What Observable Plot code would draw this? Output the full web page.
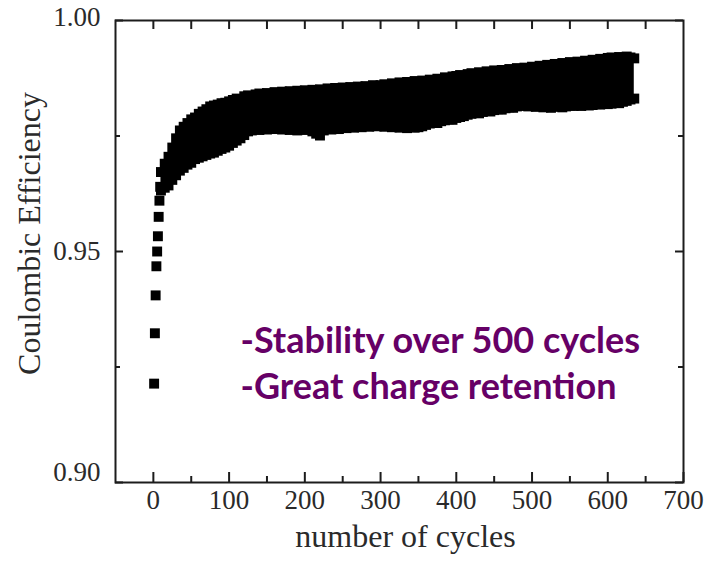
<!DOCTYPE html>
<html><head><meta charset="utf-8">
<script src="https://cdn.jsdelivr.net/npm/d3@7"></script>
<script src="https://cdn.jsdelivr.net/npm/@observablehq/plot@0.6"></script>
<style>body{margin:0;background:#fff} #chart{position:absolute;left:0;top:0}</style>
</head><body><div id="chart"></div>
<script>
// ---- data ----
const earlyCycles = [1, 2, 3, 4, 5, 6, 7, 8, 9];
const earlyCE = [0.9214, 0.9323, 0.9405, 0.9468, 0.9500, 0.9533, 0.9575, 0.9610, 0.9640];

const bandCycles = [10,15,20,25,30,35,40,45,50,
  55,60,65,70,75,80,85,90,95,100,
  105,110,115,120,125,130,135,140,145,150,
  155,160,165,170,175,180,185,190,195,200,
  205,210,215,220,225,230,235,240,245,250,
  255,260,265,270,275,280,285,290,295,300,
  305,310,315,320,325,330,335,340,345,350,
  355,360,365,370,375,380,385,390,395,400,
  405,410,415,420,425,430,435,440,445,450,
  455,460,465,470,475,480,485,490,495,500,
  505,510,515,520,525,530,535,540,545,550,
  555,560,565,570,575,580,585,590,595,600,
  605,610,615,620,625,630,635];
const bandHigh = [0.9672,0.9690,0.9705,0.9725,0.9745,0.9762,0.9770,0.9778,0.9786,
  0.9790,0.9798,0.9803,0.9808,0.9814,0.9816,0.9818,0.9821,0.9822,0.9825,
  0.9828,0.9831,0.9829,0.9836,0.9838,0.9835,0.9840,0.9842,0.9838,0.9843,
  0.9841,0.9845,0.9840,0.9846,0.9843,0.9847,0.9842,0.9848,0.9845,0.9849,
  0.9846,0.9850,0.9847,0.9851,0.9848,0.9853,0.9849,0.9854,0.9851,0.9855,
  0.9852,0.9856,0.9853,0.9857,0.9855,0.9858,0.9856,0.9860,0.9857,0.9860,
  0.9862,0.9859,0.9864,0.9861,0.9866,0.9863,0.9867,0.9865,0.9869,0.9866,
  0.9870,0.9868,0.9872,0.9870,0.9874,0.9872,0.9877,0.9875,0.9879,0.9880,
  0.9882,0.9880,0.9884,0.9886,0.9884,0.9888,0.9886,0.9890,0.9888,0.9892,
  0.9890,0.9893,0.9891,0.9895,0.9893,0.9897,0.9895,0.9898,0.9896,0.9900,
  0.9898,0.9902,0.9900,0.9904,0.9902,0.9906,0.9904,0.9908,0.9906,0.9910,
  0.9907,0.9911,0.9909,0.9913,0.9911,0.9915,0.9913,0.9917,0.9915,0.9919,
  0.9920,0.9917,0.9921,0.9919,0.9922,0.9920,0.9918];
const bandLow = [0.9632,0.9638,0.9643,0.9655,0.9665,0.9675,0.9681,0.9688,0.9692,
  0.9700,0.9703,0.9706,0.9709,0.9712,0.9714,0.9718,0.9722,0.9725,0.9729,
  0.9735,0.9740,0.9745,0.9752,0.9760,0.9762,0.9765,0.9763,0.9766,0.9764,
  0.9767,0.9765,0.9768,0.9764,0.9767,0.9763,0.9766,0.9762,0.9765,0.9763,
  0.9766,0.9760,0.9755,0.9751,0.9762,0.9766,0.9764,0.9768,0.9765,0.9769,
  0.9767,0.9770,0.9768,0.9771,0.9769,0.9773,0.9770,0.9774,0.9771,0.9773,
  0.9770,0.9772,0.9769,0.9771,0.9768,0.9770,0.9767,0.9770,0.9768,0.9769,
  0.9771,0.9774,0.9777,0.9780,0.9778,0.9782,0.9784,0.9786,0.9785,0.9789,
  0.9791,0.9793,0.9796,0.9798,0.9800,0.9799,0.9802,0.9804,0.9803,0.9806,
  0.9808,0.9807,0.9810,0.9812,0.9811,0.9814,0.9816,0.9815,0.9814,0.9816,
  0.9813,0.9815,0.9812,0.9814,0.9811,0.9813,0.9815,0.9812,0.9814,0.9816,
  0.9815,0.9817,0.9815,0.9818,0.9816,0.9817,0.9819,0.9818,0.9820,0.9819,
  0.9820,0.9822,0.9821,0.9824,0.9826,0.9829,0.9831];

const xMajorTicks = [0, 100, 200, 300, 400, 500, 600, 700];
const xMinorTicks = [50, 150, 250, 350, 450, 550, 650];
const xTopTicks = [0, 50, 100, 150, 200, 250, 300, 350, 400, 450, 500, 550, 600, 650];
const yMajorTicks = [0.90, 0.95, 1.00];
const yMinorTicks = [0.925, 0.975];
const xTitle = "number of cycles";
const yTitle = "Coulombic Efficiency";
const notes = ["-Stability over 500 cycles", "-Great charge retention"];
const noteCycle = [115, 115];
const noteCE = [0.9305, 0.9205];

// ---- layout ----
const W = 712, H = 570, mL = 115, mR = 29, mT = 20, mB = 88;
const innerW = W - mL - mR, innerH = H - mT - mB;

const band = bandCycles.map((c, i) => ({c, hi: bandHigh[i], lo: bandLow[i]}));
const early = earlyCycles.map((c, i) => ({c, v: earlyCE[i]}));
const noteData = notes.map((t, i) => ({t, x: noteCycle[i], y: noteCE[i]}));
const ink = "#1c1c1c";
const txt = "#2a2a2a";
const sq = 5.6;
const fmtY = d3.format(".2f");

const chart = Plot.plot({
  width: W, height: H,
  marginLeft: mL, marginRight: mR, marginTop: mT, marginBottom: mB,
  style: {fontFamily: "'Liberation Serif', serif", fontSize: "27px", color: txt, background: "#fff"},
  x: {domain: [-50, 700]},
  y: {domain: [0.90, 1.00]},
  marks: [
    Plot.areaY(band, {x: "c", y1: "lo", y2: "hi", fill: "#000"}),
    Plot.dot(band, {x: "c", y: "hi", symbol: "square", r: sq, fill: "#000"}),
    Plot.dot(band, {x: "c", y: "lo", symbol: "square", r: sq, fill: "#000"}),
    Plot.dot(early, {x: "c", y: "v", symbol: "square", r: sq, fill: "#000"}),
    Plot.frame({stroke: ink, strokeWidth: 2}),
    Plot.tickX(xMajorTicks, {x: d => d, insetTop: innerH - 10, stroke: ink, strokeWidth: 2}),
    Plot.tickX(xMinorTicks, {x: d => d, insetTop: innerH - 6, stroke: ink, strokeWidth: 2}),
    Plot.tickX(xTopTicks, {x: d => d, insetBottom: innerH - 9, stroke: ink, strokeWidth: 2}),
    Plot.tickY(yMajorTicks, {y: d => d, insetRight: innerW - 8, stroke: ink, strokeWidth: 2}),
    Plot.tickY(yMinorTicks, {y: d => d, insetRight: innerW - 5, stroke: ink, strokeWidth: 2}),
    Plot.tickY(yMajorTicks, {y: d => d, insetLeft: innerW - 8, stroke: ink, strokeWidth: 2}),
    Plot.tickY(yMinorTicks, {y: d => d, insetLeft: innerW - 5, stroke: ink, strokeWidth: 2}),
    Plot.axisX({ticks: xMajorTicks, tickSize: 0, tickPadding: 7, tickFormat: d => String(d), label: null}),
    Plot.axisY({ticks: yMajorTicks.slice(1, 2), tickSize: 0, tickPadding: 15, tickFormat: fmtY, label: null}),
    Plot.axisY({ticks: yMajorTicks.slice(2), tickSize: 0, tickPadding: 15, tickFormat: fmtY, label: null, dy: -3}),
    Plot.axisY({ticks: yMajorTicks.slice(0, 1), tickSize: 0, tickPadding: 15, tickFormat: fmtY, label: null, dy: -10}),
    Plot.text([xTitle], {frameAnchor: "bottom", textAnchor: "middle", dx: 6, dy: 64, fontSize: 32, fill: txt}),
    Plot.text([yTitle], {frameAnchor: "left", textAnchor: "middle", rotate: -90, dx: -86, dy: -18, fontSize: 32, fill: txt}),
    Plot.text(noteData, {x: "x", y: "y", text: "t", textAnchor: "start", lineAnchor: "middle",
      fontFamily: "Lato", fontWeight: "bold", fontSize: 36, fill: "#660066"})
  ]
});
document.getElementById("chart").appendChild(chart);
</script>
</body></html>
